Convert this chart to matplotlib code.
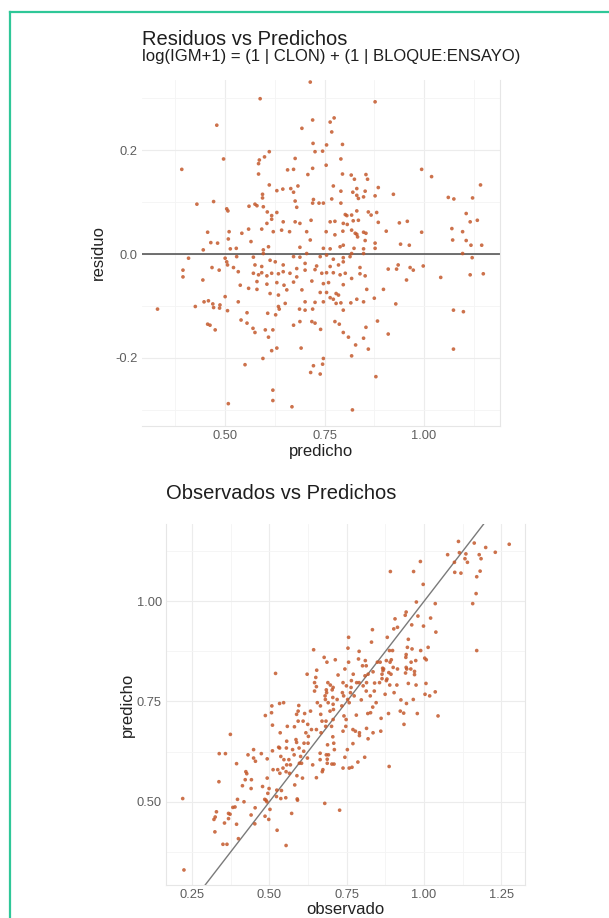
import numpy as np
import matplotlib
matplotlib.use("Agg")
import matplotlib.pyplot as plt
from matplotlib.lines import Line2D

plt.rcParams['font.family'] = ['Liberation Sans', 'DejaVu Sans']

# valores: predicho y residuo (observado = predicho + residuo)
predicho = [
    0.714, 0.588, 0.479, 0.720, 0.774, 0.764, 0.693, 0.768, 0.391, 0.496,
    0.721, 0.755, 0.795, 0.726, 0.745, 0.611, 0.599, 0.586, 0.584, 0.676,
    0.754, 0.791, 0.720, 0.657, 0.672, 0.708, 0.584, 0.795, 0.817, 0.611,
    0.683, 0.772, 0.630, 0.645, 0.665, 0.672, 0.791, 0.831, 0.594, 0.594,
    0.429, 0.471, 0.504, 0.507, 0.575, 0.580, 0.560, 0.596, 0.676, 0.680,
    0.722, 0.736, 0.747, 0.720, 0.768, 0.791, 0.835, 0.852, 0.606, 0.617,
    0.617, 0.630, 0.646, 0.605, 0.676, 0.688, 0.716, 0.764, 0.776, 0.802,
    0.818, 0.835, 0.456, 0.464, 0.481, 0.510, 0.508, 0.542, 0.559, 0.565,
    0.592, 0.621, 0.642, 0.662, 0.705, 0.714, 0.754, 0.796, 0.818, 0.831,
    0.445, 0.513, 0.528, 0.596, 0.609, 0.688, 0.747, 0.764, 0.789, 0.824,
    0.408, 0.500, 0.504,
    0.877, 0.994, 1.019, 0.825, 0.854, 0.858, 0.821, 0.831, 0.848, 0.885,
    0.877, 0.923, 1.061, 1.075, 1.122, 1.142, 0.806, 0.831, 0.860, 0.867,
    0.881, 0.797, 0.807, 0.822, 0.885, 0.938, 0.958, 1.106, 1.116, 1.134,
    0.905, 0.994, 1.070, 1.097, 0.827, 0.833, 0.848, 0.854, 0.852, 0.877,
    0.877, 0.941, 0.963, 1.072, 1.106, 1.118, 1.145, 1.097, 1.121, 0.776,
    0.797, 0.848, 0.818, 0.797,
    0.330, 0.394, 0.394, 0.467, 0.444, 0.485, 0.506, 0.529, 0.521, 0.533,
    0.500, 0.425, 0.447, 0.458, 0.469, 0.471, 0.487, 0.486, 0.506, 0.456,
    0.462, 0.475, 0.540, 0.555, 0.533, 0.555, 0.570, 0.575, 0.601, 0.620,
    0.609, 0.630, 0.617, 0.595, 0.550, 0.620, 0.620, 0.508, 0.668, 0.691,
    0.747, 0.745, 0.722, 0.739, 0.715, 0.818, 0.820, 0.672, 0.688, 0.718,
    0.726, 0.740, 0.776, 0.787, 0.797, 0.810, 0.828, 0.607, 0.627, 0.634,
    0.636, 0.651, 0.687, 0.701, 0.720, 0.701, 0.726, 0.747, 0.764, 0.772,
    0.779, 0.791, 0.797, 0.816, 0.831, 0.848, 0.779, 0.785, 0.755, 0.739,
    0.580, 0.605, 0.630, 0.648, 0.672, 0.718, 0.747, 0.760, 0.797, 0.538,
    0.559, 0.580, 0.613, 0.634, 0.655, 0.693, 0.856, 0.571, 0.584, 0.592,
    0.605, 0.617, 0.634, 0.646, 0.663, 0.680, 0.701, 0.726, 0.743, 0.755,
    0.772, 0.789, 0.802, 0.818, 0.839, 0.852, 0.571, 0.596, 0.613, 0.626,
    0.672, 0.688, 0.705, 0.739, 0.755, 0.772, 0.797, 0.814, 0.848, 0.575,
    0.592, 0.646, 0.680, 0.701, 0.730, 0.764, 0.785, 0.839,
    0.910, 0.931, 0.935, 0.965, 0.973, 0.998, 0.956, 1.042, 1.116, 1.149,
    0.898, 0.875, 0.929, 1.074, 1.099, 0.883, 0.910, 1.074, 0.879, 0.854,
    0.848, 0.860,
]
residuo = [
    0.331, 0.299, 0.248, 0.258, 0.262, 0.254, 0.242, 0.235, 0.163, 0.183,
    0.213, 0.210, 0.211, 0.197, 0.198, 0.197, 0.187, 0.181, 0.174, 0.184,
    0.171, 0.183, 0.165, 0.162, 0.163, 0.153, 0.154, 0.154, 0.152, 0.133,
    0.131, 0.131, 0.122, 0.125, 0.126, 0.119, 0.121, 0.126, 0.115, 0.108,
    0.096, 0.101, 0.087, 0.083, 0.096, 0.093, 0.092, 0.091, 0.102, 0.090,
    0.105, 0.098, 0.098, 0.098, 0.106, 0.098, 0.107, 0.121, 0.081, 0.074,
    0.067, 0.080, 0.062, 0.059, 0.062, 0.059, 0.065, 0.062, 0.063, 0.076,
    0.075, 0.065, 0.042, 0.022, 0.021, 0.043, 0.029, 0.040, 0.048, 0.024,
    0.048, 0.043, 0.046, 0.043, 0.043, 0.027, 0.043, 0.044, 0.046, 0.038,
    0.008, 0.010, 0.011, 0.008, 0.014, 0.013, 0.011, 0.010, 0.014, 0.011,
    -0.008, -0.008, -0.015,
    0.293, 0.163, 0.149, 0.144, 0.153, 0.144, 0.119, 0.113, 0.110, 0.128,
    0.112, 0.115, 0.109, 0.106, 0.108, 0.133, 0.074, 0.083, 0.081, 0.075,
    0.080, 0.059, 0.057, 0.064, 0.061, 0.060, 0.063, 0.078, 0.062, 0.065,
    0.044, 0.042, 0.049, 0.043, 0.040, 0.033, 0.042, 0.040, 0.026, 0.021,
    0.011, 0.019, 0.017, 0.027, 0.026, 0.017, 0.017, 0.001, -0.007, 0.037,
    0.017, 0.010, 0.001, -0.007,
    -0.106, -0.031, -0.044, -0.026, -0.050, -0.031, -0.021, -0.005, -0.026, -0.034,
    -0.082, -0.101, -0.092, -0.090, -0.096, -0.103, -0.098, -0.104, -0.109, -0.135,
    -0.137, -0.146, -0.127, -0.113, -0.092, -0.133, -0.143, -0.151, -0.146, -0.146,
    -0.160, -0.181, -0.186, -0.201, -0.213, -0.262, -0.282, -0.288, -0.294, -0.181,
    -0.201, -0.212, -0.215, -0.231, -0.228, -0.196, -0.300, -0.137, -0.130, -0.130,
    -0.133, -0.145, -0.130, -0.135, -0.151, -0.160, -0.175, -0.114, -0.117, -0.101,
    -0.106, -0.095, -0.106, -0.108, -0.106, -0.092, -0.093, -0.092, -0.084, -0.087,
    -0.095, -0.094, -0.108, -0.094, -0.087, -0.092, -0.076, -0.079, -0.074, -0.074,
    -0.053, -0.058, -0.055, -0.060, -0.054, -0.052, -0.057, -0.055, -0.059, -0.060,
    -0.066, -0.068, -0.076, -0.079, -0.069, -0.069, -0.068, -0.037, -0.040, -0.036,
    -0.042, -0.037, -0.038, -0.034, -0.037, -0.044, -0.031, -0.030, -0.037, -0.036,
    -0.036, -0.040, -0.037, -0.047, -0.038, -0.042, -0.006, 0.001, -0.012, -0.015,
    -0.005, -0.006, 0.001, -0.005, -0.002, -0.010, -0.015, -0.005, 0.001, -0.021,
    -0.024, -0.021, -0.028, -0.018, -0.023, -0.024, -0.021, -0.026,
    -0.029, -0.029, -0.021, -0.026, -0.031, -0.023, -0.050, -0.045, -0.040, -0.038,
    -0.068, -0.085, -0.096, -0.108, -0.111, -0.129, -0.154, -0.183, -0.236, -0.141,
    -0.162, -0.183,
]

predicho = np.array(predicho)
residuo = np.array(residuo)
observado = predicho + residuo

punto = '#c4592c'
gris_txt = '#5e5e5e'
grid_major = '#ececec'
grid_minor = '#f4f4f4'

fig = plt.figure(figsize=(6.09, 9.18), dpi=100)

# marco verde
fig.add_artist(Line2D([10/609, 1.05], [1-12/918, 1-12/918], color='#2fc798', lw=1.6))
fig.add_artist(Line2D([10/609, 10/609], [1-12/918, -0.05], color='#2fc798', lw=1.6))


def estilo(ax):
    ax.set_facecolor('white')
    ax.tick_params(length=0, labelsize=9.3, labelcolor=gris_txt, pad=3)
    ax.grid(which='major', color=grid_major, lw=0.8)
    ax.grid(which='minor', color=grid_minor, lw=0.6)
    ax.set_axisbelow(True)
    for s in ax.spines.values():
        s.set_color('#e6e6e6')
        s.set_linewidth(0.8)


# ---- Residuos vs Predichos
ax1 = fig.add_axes([142/609, 1-426/918, 358/609, 346/918])
estilo(ax1)
ax1.spines['top'].set_visible(False)
ax1.spines['left'].set_visible(False)
ax1.scatter(predicho, residuo, s=7, color=punto, edgecolors='none', alpha=0.85, zorder=3)
ax1.axhline(0, color='#4a4a4a', lw=1.1, zorder=2)
ax1.set_xlim(0.291, 1.191)
ax1.set_ylim(-0.331, 0.335)
ax1.set_xticks([0.5, 0.75, 1.0])
ax1.set_xticklabels(['0.50', '0.75', '1.00'])
ax1.set_xticks([0.375, 0.625, 0.875, 1.125], minor=True)
ax1.set_yticks([-0.2, 0.0, 0.2])
ax1.set_yticklabels(['-0.2', '0.0', '0.2'])
ax1.set_yticks([-0.3, -0.1, 0.1, 0.3], minor=True)
ax1.tick_params(which='minor', length=0)
ax1.set_xlabel('predicho', fontsize=12, color='#222222')
ax1.set_ylabel('residuo', fontsize=12, color='#222222')
ax1.xaxis.set_label_coords(0.5, -0.051)
ax1.yaxis.set_label_coords(-0.100, 0.5)

fig.text(142/609, 1-45/918, 'Residuos vs Predichos', fontsize=14.5, color='#1e1e1e')
fig.text(142/609, 1-61/918, 'log(IGM+1) = (1 | CLON) + (1 | BLOQUE:ENSAYO)',
         fontsize=12, color='#1e1e1e')

# ---- Observados vs Predichos
ax2 = fig.add_axes([166/609, 1-885/918, 359/609, 361/918])
estilo(ax2)
ax2.spines['top'].set_visible(False)
ax2.scatter(observado, predicho, s=7, color=punto, edgecolors='none', alpha=0.85, zorder=3)
ax2.axline((0.5, 0.5), slope=1, color='#7a7a7a', lw=1.0, zorder=2)
ax2.set_xlim(0.166, 1.326)
ax2.set_ylim(0.2925, 1.1925)
ax2.set_xticks([0.25, 0.5, 0.75, 1.0, 1.25])
ax2.set_xticklabels(['0.25', '0.50', '0.75', '1.00', '1.25'])
ax2.set_xticks([0.375, 0.625, 0.875, 1.125], minor=True)
ax2.set_yticks([0.5, 0.75, 1.0])
ax2.set_yticklabels(['0.50', '0.75', '1.00'])
ax2.set_yticks([0.375, 0.625, 0.875, 1.125], minor=True)
ax2.tick_params(which='minor', length=0)
ax2.set_xlabel('observado', fontsize=12, color='#222222')
ax2.set_ylabel('predicho', fontsize=12, color='#222222')
ax2.xaxis.set_label_coords(0.5, -0.047)
ax2.yaxis.set_label_coords(-0.086, 0.5)

fig.text(166/609, 1-499/918, 'Observados vs Predichos', fontsize=14.5, color='#1e1e1e')

fig.savefig('out.png', dpi=100, facecolor='white')
